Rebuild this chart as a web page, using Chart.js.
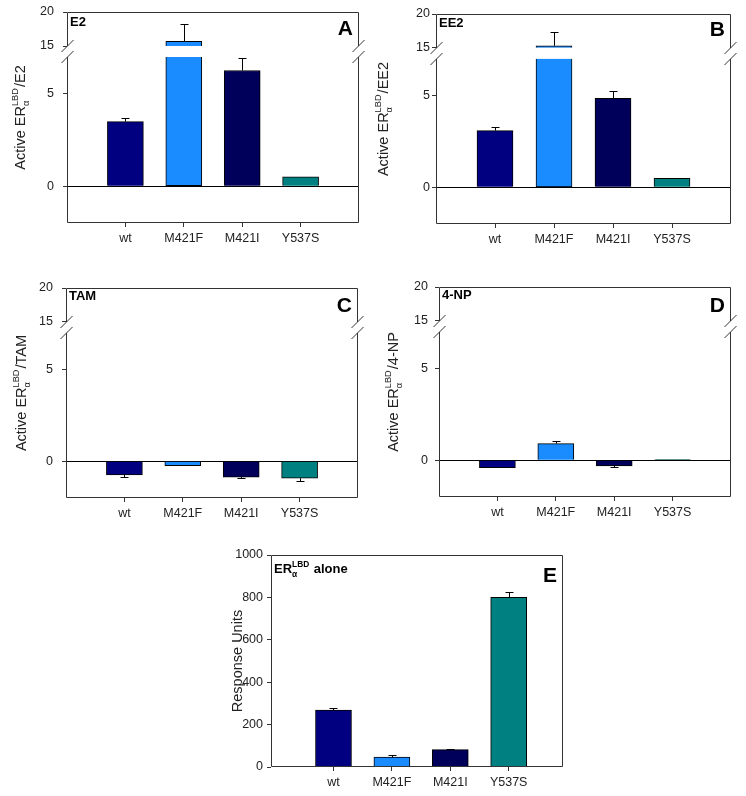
<!DOCTYPE html>
<html>
<head>
<meta charset="utf-8">
<script src="https://cdn.jsdelivr.net/npm/chart.js@4"></script>
<style>
  html, body { margin: 0; padding: 0; background: #fff; }
  body { width: 746px; height: 796px; position: relative; overflow: hidden; }
  .panel { position: absolute; }
</style>
</head>
<body>
<div class="panel"><canvas id="chartA"></canvas></div>
<div class="panel"><canvas id="chartB"></canvas></div>
<div class="panel"><canvas id="chartC"></canvas></div>
<div class="panel"><canvas id="chartD"></canvas></div>
<div class="panel"><canvas id="chartE"></canvas></div>
<script>
// receptor variants, same order in every panel
const categories = ['wt', 'M421F', 'M421I', 'Y537S'];
const barColors = ['#000080', '#1a8cff', '#00005a', '#008080'];

// A - E2
const e2Values = [3.5, 15.7, 6.27, 0.51];
const e2Errors = [0.2, 2.5, 0.67, 0];

// B - EE2
const ee2Values = [3.09, 15.3, 4.85, 0.49];
const ee2Errors = [0.18, 2.1, 0.39, 0.04];

// C - TAM
const tamValues = [-0.74, -0.24, -0.86, -0.92];
const tamErrors = [0.13, 0, 0.06, 0.16];

// D - 4-NP
const npValues = [-0.4, 0.91, -0.3, 0.04];
const npErrors = [0, 0.16, 0.07, 0];

// E - receptor alone
const aloneValues = [268, 47, 82, 800];
const aloneErrors = [11, 11, 5, 27];

// broken axis ticks
const lowTicks = [0, 5];
const highTicks = [15, 20];
const aloneTicks = [0, 200, 400, 600, 800, 1000];

const FONT = '"Liberation Sans", Arial, sans-serif';
const INK = '#222';
const LOW_CUT = 7;     // top of the lower part of the broken axis
const LOW_MAX = 7.6;
const HIGH_MIN = 15;
const TITLE_SIZE = 14.5;

function partsWidth(ctx, parts, size, weight) {
  let w = 0;
  for (const p of parts) {
    if (p.text !== undefined) {
      ctx.font = `${weight} ${size}px ${FONT}`;
      w += ctx.measureText(p.text).width;
    } else {
      ctx.font = `${weight} ${size * 0.64}px ${FONT}`;
      w += Math.max(ctx.measureText(p.sub).width, ctx.measureText(p.sup).width) + 1;
    }
  }
  return w;
}

function drawParts(ctx, parts, x, y, size, weight) {
  let cx = x;
  ctx.textAlign = 'left';
  ctx.textBaseline = 'alphabetic';
  for (const p of parts) {
    if (p.text !== undefined) {
      ctx.font = `${weight} ${size}px ${FONT}`;
      ctx.fillText(p.text, cx, y);
      cx += ctx.measureText(p.text).width;
    } else {
      ctx.font = `${weight} ${size * 0.64}px ${FONT}`;
      ctx.fillText(p.sub, cx, y + size * 0.3);
      ctx.fillText(p.sup, cx, y - size * 0.45);
      cx += Math.max(ctx.measureText(p.sub).width, ctx.measureText(p.sup).width) + 1;
    }
  }
}

function valuePixel(chart, v) {
  const hi = chart.scales.yTop;
  if (hi && v >= hi.min) return hi.getPixelForValue(v);
  return chart.scales.y.getPixelForValue(v);
}

// frame with the axis break, error bars and texts
const panelDecor = {
  id: 'panelDecor',
  afterDatasetsDraw(chart) {
    const p = chart.options.plugins.panelDecor;
    const ctx = chart.ctx;
    const xs = chart.scales.x;
    ctx.save();
    ctx.strokeStyle = '#000';
    ctx.lineWidth = 1;
    p.values.forEach((v, i) => {
      const e = p.errors[i];
      if (!e) return;
      const end = v >= 0 ? v + e : v - e;
      const x = Math.round(xs.getPixelForValue(i + 1)) + 0.5;
      const y0 = valuePixel(chart, v);
      const y1 = Math.round(valuePixel(chart, end)) + 0.5;
      ctx.beginPath();
      ctx.moveTo(x, y0);
      ctx.lineTo(x, y1);
      ctx.moveTo(x - 4, y1);
      ctx.lineTo(x + 4, y1);
      ctx.stroke();
    });
    ctx.restore();
  },
  afterDraw(chart) {
    const p = chart.options.plugins.panelDecor;
    const ctx = chart.ctx;
    const a = chart.chartArea;
    const L = Math.round(a.left) + 0.5, R = Math.round(a.right) - 0.5;
    const T = Math.round(a.top) + 0.5, B = Math.round(a.bottom) - 0.5;
    ctx.save();
    ctx.strokeStyle = '#333';
    ctx.lineWidth = 1;
    ctx.beginPath();
    ctx.moveTo(L, T); ctx.lineTo(R, T);
    ctx.moveTo(L, B); ctx.lineTo(R, B);
    if (p.broken) {
      const yHi = Math.round(chart.scales.yTop.getPixelForValue(HIGH_MIN));
      const yLo = Math.round(chart.scales.y.getPixelForValue(LOW_CUT));
      for (const x of [L, R]) {
        ctx.moveTo(x, T); ctx.lineTo(x, yHi);
        ctx.moveTo(x, yLo); ctx.lineTo(x, B);
        for (const y of [yHi, yLo]) {
          ctx.moveTo(x - 6, y + 6);
          ctx.lineTo(x + 6, y - 6);
        }
      }
    } else {
      ctx.moveTo(L, T); ctx.lineTo(L, B);
      ctx.moveTo(R, T); ctx.lineTo(R, B);
    }
    ctx.stroke();

    ctx.fillStyle = INK;
    // y title, rotated
    const tw = partsWidth(ctx, p.title, TITLE_SIZE, 'normal');
    ctx.save();
    ctx.translate(p.titleX, (a.top + a.bottom) / 2);
    ctx.rotate(-Math.PI / 2);
    drawParts(ctx, p.title, -tw / 2, 0, TITLE_SIZE, 'normal');
    ctx.restore();

    // tag top left
    ctx.fillStyle = '#000';
    drawParts(ctx, p.tag, a.left + 3, a.top + p.tagY, 13, 'bold');

    // panel letter top right
    ctx.font = `bold 21px ${FONT}`;
    ctx.textAlign = 'right';
    ctx.fillText(p.letter, a.right - 6, a.top + p.letterY);
    ctx.restore();
  }
};

function makePanel(id, p) {
  const canvas = document.getElementById(id);
  canvas.width = p.w;
  canvas.height = p.h;
  canvas.parentElement.style.left = p.x0 + 'px';
  canvas.parentElement.style.top = p.y0 + 'px';
  const [L, T, R, B] = p.box;
  const axisW = L - p.x0;
  const axisH = p.y0 + p.h - B;
  // fixed y axis width, no extra room asked for the end labels
  const fitY = s => { s.width = axisW; s.paddingTop = 0; s.paddingBottom = 0; };

  const tickFont = { family: FONT, size: 12.5 };
  const lowData = p.values.map((v, i) => ({ x: i + 1, y: p.broken ? Math.min(v, LOW_CUT) : v }));
  const datasets = [{
    data: lowData,
    yAxisID: 'y',
    grouped: false,
    backgroundColor: barColors,
    borderColor: '#000',
    borderWidth: 1,
    borderSkipped: c => (p.broken && p.values[c.dataIndex] > LOW_CUT) ? 'end' : 'start',
    barThickness: 36
  }];

  const scales = {
    x: {
      type: 'linear',
      offset: false,
      min: p.xMin, max: p.xMin + 5,
      afterBuildTicks: s => { s.ticks = categories.map((c, i) => ({ value: i + 1 })); },
      afterFit: s => { s.height = axisH; },
      ticks: { font: tickFont, color: INK, padding: 4, maxRotation: 0, callback: v => categories[v - 1] },
      grid: { offset: false, drawOnChartArea: false, tickLength: 4, tickColor: '#333' },
      border: { display: false }
    },
    y: {
      type: 'linear',
      position: 'left',
      min: p.yMin, max: p.yMax,
      afterBuildTicks: s => { s.ticks = p.yTicks.map(v => ({ value: v })); },
      afterFit: fitY,
      ticks: { font: tickFont, color: INK, padding: p.tickPad, callback: v => String(v) },
      grid: {
        color: c => (c.tick && c.tick.value === 0 && p.broken) ? '#000' : 'rgba(0,0,0,0)',
        tickColor: '#333', tickLength: 4
      },
      border: { display: false }
    }
  };

  if (p.broken) {
    datasets.push({
      data: p.values.map((v, i) => ({ x: i + 1, y: v > HIGH_MIN ? [HIGH_MIN, v] : null })),
      yAxisID: 'yTop',
      grouped: false,
      backgroundColor: barColors,
      borderColor: '#000',
      borderWidth: 1,
      borderSkipped: 'start',
      barThickness: 36
    });
    scales.y.stack = 'v';
    scales.y.stackWeight = 177;
    scales.y.weight = 1;
    scales.yTop = {
      type: 'linear',
      position: 'left',
      stack: 'v', stackWeight: 34, weight: 2,
      min: HIGH_MIN, max: 20,
      afterBuildTicks: s => { s.ticks = highTicks.map(v => ({ value: v })); },
      afterFit: fitY,
      ticks: { font: tickFont, color: INK, padding: p.tickPad, callback: v => String(v) },
      grid: { color: 'rgba(0,0,0,0)', tickColor: '#333', tickLength: 4 },
      border: { display: false }
    };
  }

  return new Chart(canvas, {
    type: 'bar',
    data: { datasets },
    options: {
      responsive: false,
      animation: false,
      layout: { padding: { left: 0, top: T - p.y0, right: p.x0 + p.w - R, bottom: 0 } },
      scales,
      plugins: {
        legend: { display: false },
        tooltip: { enabled: false },
        panelDecor: {
          values: p.values, errors: p.errors, broken: p.broken,
          title: p.title, titleX: p.titleX - p.x0,
          tag: p.tag, tagY: p.tagY, letter: p.letter, letterY: p.letterY
        }
      }
    },
    plugins: [panelDecor]
  });
}

const activeTitle = ligand => [{ text: 'Active ER' }, { sub: 'α', sup: 'LBD' }, { text: '/' + ligand }];

makePanel('chartA', {
  x0: 0, y0: 0, w: 373, h: 262, box: [67, 12, 359, 223], xMin: 0,
  values: e2Values, errors: e2Errors, broken: true,
  yMin: -2, yMax: LOW_MAX, yTicks: lowTicks, tickPad: 9,
  title: activeTitle('E2'), titleX: 25,
  tag: [{ text: 'E2' }], tagY: 14, letter: 'A', letterY: 23
});

makePanel('chartB', {
  x0: 373, y0: 0, w: 373, h: 262, box: [436, 14, 731, 224], xMin: 0,
  values: ee2Values, errors: ee2Errors, broken: true,
  yMin: -2, yMax: LOW_MAX, yTicks: lowTicks, tickPad: 2,
  title: activeTitle('EE2'), titleX: 388,
  tag: [{ text: 'EE2' }], tagY: 13, letter: 'B', letterY: 22
});

makePanel('chartC', {
  x0: 0, y0: 262, w: 373, h: 270, box: [66, 288, 358, 498], xMin: 0,
  values: tamValues, errors: tamErrors, broken: true,
  yMin: -2, yMax: LOW_MAX, yTicks: lowTicks, tickPad: 9,
  title: activeTitle('TAM'), titleX: 26,
  tag: [{ text: 'TAM' }], tagY: 12, letter: 'C', letterY: 24
});

makePanel('chartD', {
  x0: 373, y0: 262, w: 373, h: 270, box: [439, 287, 731, 497], xMin: 0,
  values: npValues, errors: npErrors, broken: true,
  yMin: -2, yMax: LOW_MAX, yTicks: lowTicks, tickPad: 7,
  title: activeTitle('4-NP'), titleX: 398,
  tag: [{ text: '4-NP' }], tagY: 12, letter: 'D', letterY: 25
});

makePanel('chartE', {
  x0: 180, y0: 532, w: 400, h: 264, box: [271, 555, 563, 767], xMin: -0.07,
  values: aloneValues, errors: aloneErrors, broken: false,
  yMin: 0, yMax: 1000, yTicks: aloneTicks, tickPad: 4,
  title: [{ text: 'Response Units' }], titleX: 242,
  tag: [{ text: 'ER' }, { sub: 'α', sup: 'LBD' }, { text: ' alone' }], tagY: 18,
  letter: 'E', letterY: 27
});
</script>
</body>
</html>
